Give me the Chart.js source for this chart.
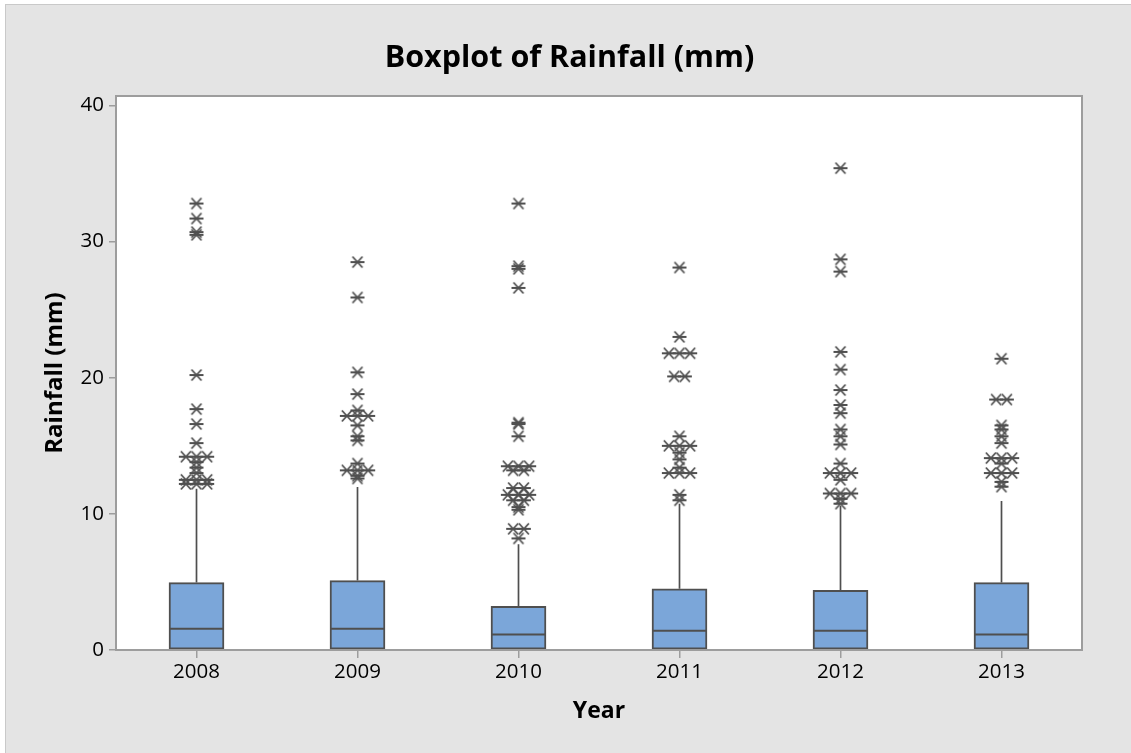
<!DOCTYPE html>
<html>
<head>
<meta charset="utf-8">
<script src="https://cdn.jsdelivr.net/npm/chart.js@4.4.1/dist/chart.umd.min.js"></script>
<style>
html,body{margin:0;padding:0;background:#ffffff;}
#wrap{position:absolute;left:0;top:0;width:1131px;height:753px;overflow:hidden;}
#bg{position:absolute;left:5px;top:4px;right:0;bottom:0;background:#e4e4e4;border-top:1px solid #c9c9c9;border-left:1px solid #c9c9c9;}
#c{position:absolute;left:0;top:0;}
</style>
</head>
<body>
<div id="wrap"><div id="bg"></div><canvas id="c" width="1131" height="753"></canvas></div>
<script>
// ---------- data ----------
const years = ['2008', '2009', '2010', '2011', '2012', '2013'];
const q1 = [0, 0, 0, 0, 0, 0];
const q3 = [4.95, 5.1, 3.2, 4.5, 4.38, 4.95];
const medians = [1.56, 1.56, 1.14, 1.41, 1.41, 1.14];
const whiskerTop = [11.85, 11.97, 7.76, 10.75, 10.6, 10.94];
const yTicks = [0, 10, 20, 30, 40];

const out2008 = [32.8, 31.7, 30.7, 30.5, 20.2, 17.7, 16.6, 15.2, 14.2, 14.2, 14.2, 13.8, 13.4, 13.0, 12.5, 12.5, 12.5, 12.2, 12.2, 12.2];
const out2009 = [28.5, 25.9, 20.4, 18.8, 17.6, 17.2, 17.2, 17.2, 16.5, 15.7, 15.4, 13.7, 13.2, 13.2, 13.2, 12.8, 12.6];
const out2010 = [32.8, 28.2, 28.0, 26.6, 16.7, 16.6, 15.7, 13.5, 13.5, 13.5, 13.2, 13.2, 11.9, 11.9, 11.4, 11.4, 11.4, 11.0, 11.0, 10.5, 10.3, 8.9, 8.9, 8.2];
const out2011 = [28.1, 23.0, 21.8, 21.8, 21.8, 20.1, 20.1, 15.7, 15.0, 15.0, 15.0, 14.5, 14.0, 13.4, 13.0, 13.0, 13.0, 11.4, 11.0];
const out2012 = [35.4, 28.7, 27.8, 21.9, 20.6, 19.1, 18.0, 17.4, 16.2, 15.7, 15.1, 13.7, 13.0, 13.0, 13.0, 12.5, 11.5, 11.5, 11.5, 11.1, 10.75];
const out2013 = [21.4, 18.4, 18.4, 16.5, 16.2, 15.7, 15.2, 14.1, 14.1, 14.1, 13.7, 13.0, 13.0, 13.0, 12.35, 12.0];
const outliers = [out2008, out2009, out2010, out2011, out2012, out2013];

// ---------- helpers ----------
const FAMILY = "'Open Sans', 'Noto Sans', 'DejaVu Sans', sans-serif";
const INK = '#4f4f4f';
const FRAME = '#9d9d9d';

// Minitab-like asterisk symbol
function makeAsterisk() {
  const cv = document.createElement('canvas');
  cv.width = 16; cv.height = 14;
  const g = cv.getContext('2d');
  g.strokeStyle = INK; g.lineWidth = 1.8; g.lineCap = 'butt';
  g.beginPath();
  g.moveTo(1, 7); g.lineTo(15, 7);
  g.moveTo(3, 1.5); g.lineTo(13, 12.5);
  g.moveTo(13, 1.5); g.lineTo(3, 12.5);
  g.stroke();
  return cv;
}
const asterisk = makeAsterisk();

// tied values are set side by side (Minitab style)
const TIE_STEP = 0.066;
const outlierPoints = [];
outliers.forEach((vals, i) => {
  const counts = {};
  vals.forEach(v => { counts[v] = (counts[v] || 0) + 1; });
  const seen = {};
  vals.forEach(v => {
    const n = counts[v];
    const k = seen[v] || 0;
    seen[v] = k + 1;
    outlierPoints.push({ x: i + (k - (n - 1) / 2) * TIE_STEP, y: v });
  });
});

const whiskerPoints = [];
years.forEach((_, i) => {
  whiskerPoints.push({ x: i, y: q3[i] });
  whiskerPoints.push({ x: i, y: whiskerTop[i] });
  whiskerPoints.push({ x: i + 0.5, y: null });
});

const boxPoints = years.map((_, i) => ({ x: i, y: [q1[i], q3[i]] }));
const medianPoints = years.map((_, i) => ({ x: i, y: medians[i] }));

const areaPlugin = {
  id: 'area',
  beforeDraw(chart) {
    const { ctx, chartArea: a } = chart;
    ctx.save();
    ctx.fillStyle = '#ffffff';
    ctx.fillRect(a.left, a.top, a.right - a.left, a.bottom - a.top);
    ctx.restore();
  },
  afterDraw(chart) {
    const { ctx, chartArea: a } = chart;
    ctx.save();
    ctx.strokeStyle = FRAME;
    ctx.lineWidth = 2;
    ctx.strokeRect(a.left, a.top, a.right - a.left, a.bottom - a.top);
    ctx.restore();
  }
};

new Chart(document.getElementById('c'), {
  type: 'bar',
  data: {
    datasets: [
      {
        type: 'scatter', label: 'Outliers', data: outlierPoints, order: 0,
        pointStyle: asterisk, pointRadius: 6, pointHoverRadius: 6
      },
      {
        type: 'scatter', label: 'Median', data: medianPoints, order: 1,
        pointStyle: 'line', pointRadius: 26.5, pointBorderColor: INK, pointBorderWidth: 2,
        pointBackgroundColor: INK
      },
      {
        type: 'bar', label: 'IQR box', data: boxPoints, order: 2,
        backgroundColor: '#7ba6d9', borderColor: INK, borderWidth: 2,
        borderSkipped: false, barThickness: 55
      },
      {
        type: 'line', label: 'Whisker', data: whiskerPoints, order: 3,
        borderColor: INK, borderWidth: 1.7, pointRadius: 0, spanGaps: false, fill: false
      }
    ]
  },
  options: {
    responsive: false,
    animation: false,
    devicePixelRatio: 1,
    layout: { padding: { left: 8, right: 0, top: 0, bottom: 0 } },
    plugins: {
      legend: { display: false },
      tooltip: { enabled: false },
      title: {
        display: true, text: 'Boxplot of Rainfall (mm)', color: '#000',
        font: { family: FAMILY, size: 30.5, weight: 'bold', lineHeight: 1.2 },
        padding: { top: 40.5, bottom: 18.9 }
      }
    },
    scales: {
      x: {
        type: 'linear', min: -0.5, max: 5.5, offset: false,
        afterBuildTicks: s => { s.ticks = years.map((_, i) => ({ value: i })); },
        afterFit: s => { s.height = 103; },
        grid: { offset: false, drawOnChartArea: false, drawTicks: true, tickLength: 8, color: FRAME, lineWidth: 1.5 },
        border: { display: false },
        ticks: {
          autoSkip: false, maxRotation: 0, padding: 2, color: '#000',
          font: { family: FAMILY, size: 20.5 },
          callback: v => years[v]
        },
        title: {
          display: true, text: 'Year', color: '#000',
          font: { family: FAMILY, size: 23, weight: 'bold', lineHeight: 1.2 },
          padding: { top: 0, bottom: 28 }
        }
      },
      y: {
        type: 'linear', min: 0, max: 40.7,
        afterBuildTicks: s => { s.ticks = yTicks.map(v => ({ value: v })); },
        afterFit: s => { s.width = 108; },
        grid: { drawOnChartArea: false, drawTicks: true, tickLength: 7, color: FRAME, lineWidth: 1.5 },
        border: { display: false },
        ticks: { padding: 5, color: '#000', font: { family: FAMILY, size: 20.5 } },
        title: {
          display: true, text: 'Rainfall (mm)', color: '#000',
          font: { family: FAMILY, size: 24, weight: 'bold', lineHeight: 1.2 },
          padding: { top: 32.5, bottom: 0 }
        }
      },
      yR: {
        type: 'linear', position: 'right', display: true,
        afterFit: s => { s.width = 49; },
        grid: { display: false }, border: { display: false }, ticks: { display: false }
      }
    }
  },
  plugins: [areaPlugin]
});
</script>
</body>
</html>
